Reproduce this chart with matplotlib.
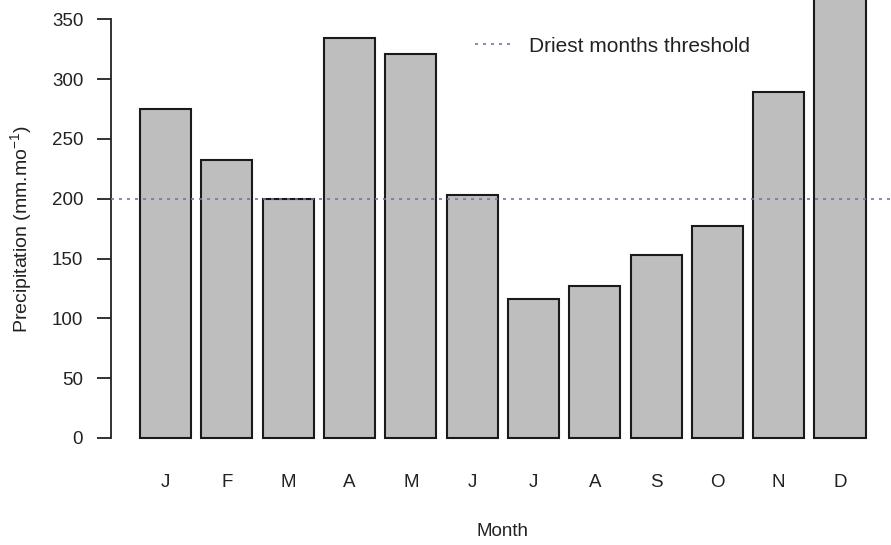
import numpy as np
import matplotlib
matplotlib.use('Agg')
import matplotlib.pyplot as plt

plt.rcParams['font.family'] = ['Liberation Sans', 'DejaVu Sans']
plt.rcParams['mathtext.fontset'] = 'custom'
plt.rcParams['mathtext.rm'] = 'Liberation Sans'
plt.rcParams['mathtext.it'] = 'Liberation Sans:italic'

months = ['J', 'F', 'M', 'A', 'M', 'J', 'J', 'A', 'S', 'O', 'N', 'D']
precip = [275, 232, 200, 334, 321, 203, 116, 127, 153, 177, 289, 375]
threshold = 200
yticks = [0, 50, 100, 150, 200, 250, 300, 350]

# barplot-style layout: width 1, space 0.2
width = 1.0
space = 0.2
lefts = space + np.arange(len(months)) * (width + space)
centers = lefts + width / 2

fig = plt.figure(figsize=(8.91, 5.45), dpi=100)
# plot region spills slightly past the right edge
ax = fig.add_axes([111 / 891, (545 - 454.7) / 545, (894.6 - 111) / 891, (454.7 - 2.6) / 545])

ax.bar(centers, precip, width=width, color='#bebebe', edgecolor='#1a1a1a',
       linewidth=1.5, clip_on=False, zorder=2)
ax.axhline(threshold, color='#8a66b0', linewidth=1.2, linestyle=(0, (1.8, 3)),
           zorder=3, label='Driest months threshold')

ax.set_xlim(-0.368, 14.968)
ax.set_ylim(-14, 364)

for side in ['top', 'right', 'bottom']:
    ax.spines[side].set_visible(False)
ax.spines['left'].set_bounds(0, 350)
ax.spines['left'].set_linewidth(1.3)
ax.spines['left'].set_color('#222222')

ax.set_yticks(yticks)
ax.tick_params(axis='y', length=10, width=1.3, color='#222222', labelsize=13.5,
               labelcolor='#222222', pad=10)
ax.set_xticks(centers)
ax.set_xticklabels(months)
ax.tick_params(axis='x', length=0, labelsize=13.5, labelcolor='#222222', pad=14)

ax.set_xlabel('Month', fontsize=13.5, color='#222222', labelpad=23)
ax.set_ylabel(r'Precipitation (mm.mo$^{-1}$)', fontsize=14, color='#222222', labelpad=13)

fig.legend(loc='center left', bbox_to_anchor=(475 / 891, 1 - 46 / 545),
           frameon=False, fontsize=15, handlelength=1.8, handletextpad=0.8,
           borderpad=0, borderaxespad=0, labelcolor='#222222')

fig.savefig('out.png', dpi=100)
